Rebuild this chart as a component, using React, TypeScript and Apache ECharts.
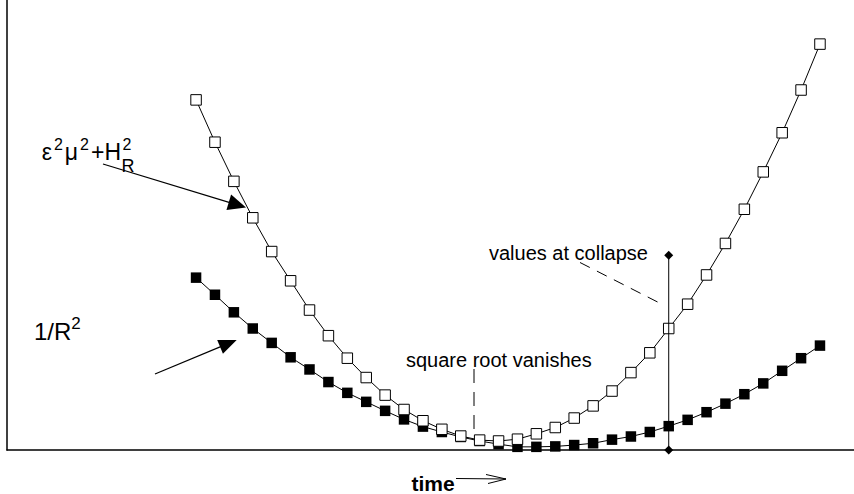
import React, { useEffect, useRef } from "react";
import * as echarts from "echarts";

// time steps (x)
const times = [10, 11, 12, 13, 14, 15, 16, 17, 18, 19, 20, 21, 22, 23, 24, 25, 26, 27, 28, 29, 30, 31, 32, 33, 34, 35, 36, 37, 38, 39, 40, 41, 42, 43];
// ε²μ² + H_R²  (open squares)
const sumSquares = [77.8, 68.4, 59.7, 51.6, 44.1, 37.6, 31.1, 25.4, 20.4, 16.1, 12.2, 9.0, 6.5, 4.6, 3.1, 2.2, 2.0, 2.4, 3.6, 5.0, 7.1, 9.8, 13.1, 17.2, 21.6, 27.0, 32.4, 38.9, 45.9, 53.5, 61.8, 70.5, 80.0, 90.2];
// 1/R²  (filled squares)
const invR2 = [38.3, 34.5, 30.6, 27.0, 23.8, 20.6, 17.9, 15.1, 12.7, 10.7, 8.7, 6.8, 5.2, 4.0, 2.9, 2.0, 1.3, 0.7, 0.7, 0.8, 1.1, 1.5, 2.3, 3.0, 4.0, 5.3, 6.7, 8.4, 10.3, 12.4, 14.8, 17.6, 20.4, 23.2];
// collapse marker
const collapseTime = [35, 35];
const collapseValue = [0, 43.3];

const FONT = '"Liberation Sans", Arial, Helvetica, sans-serif';

function arrowHead(sx: number, sy: number, tx: number, ty: number, len: number, half: number) {
  const dx = tx - sx, dy = ty - sy;
  const L = Math.hypot(dx, dy);
  const ux = dx / L, uy = dy / L;
  const bx = tx - ux * len, by = ty - uy * len;
  return {
    points: [[tx, ty], [bx - uy * half, by + ux * half], [bx + uy * half, by - ux * half]],
    base: [bx + ux * 2, by + uy * 2],
  };
}

export default function App() {
  const ref = useRef<HTMLDivElement>(null);
  useEffect(() => {
    if (!ref.current) return;
    const chart = echarts.init(ref.current, null, { renderer: "svg" });
    const a1 = arrowHead(103, 164, 246, 207.5, 18, 8);
    const a2 = arrowHead(155, 374, 236.7, 340, 18, 7.5);
    const supStyle = { fontSize: 16, lineHeight: 13, verticalAlign: "top", fontFamily: FONT, fill: "#000", padding: [0, 1, 0, 1] };
    const mainStyle = { fontSize: 23, lineHeight: 27, verticalAlign: "bottom", fontFamily: FONT, fill: "#000", padding: [0, 1, 0, 1] };
    const supStyle2 = { fontSize: 17, lineHeight: 13, verticalAlign: "top", fontFamily: FONT, fill: "#000", padding: [0, 0, 0, 0] };
    const mainStyle2 = { fontSize: 24, lineHeight: 28, verticalAlign: "bottom", fontFamily: FONT, fill: "#000", padding: [0, 0, 0, 1] };
    chart.setOption({
      animation: false,
      backgroundColor: "#fff",
      grid: { left: 7, right: 0, top: 0, bottom: 44 },
      xAxis: {
        type: "value", min: 0, max: 44.8,
        axisLine: { show: true, lineStyle: { color: "#000", width: 1.5 } },
        axisTick: { show: false }, axisLabel: { show: false }, splitLine: { show: false },
      },
      yAxis: {
        type: "value", min: 0, max: 100,
        axisLine: { show: true, lineStyle: { color: "#000", width: 1.5 } },
        axisTick: { show: false }, axisLabel: { show: false }, splitLine: { show: false },
      },
      series: [
        {
          type: "line",
          data: times.map((t, i) => [t, invR2[i]]),
          symbol: "rect", symbolSize: 10.5,
          lineStyle: { color: "#000", width: 1 },
          itemStyle: { color: "#000", borderColor: "#000", borderWidth: 0 },
          z: 2,
        },
        {
          type: "line",
          data: times.map((t, i) => [t, sumSquares[i]]),
          symbol: "rect", symbolSize: 10.5,
          lineStyle: { color: "#000", width: 1 },
          itemStyle: { color: "#fff", borderColor: "#000", borderWidth: 1 },
          z: 3,
        },
        {
          type: "line",
          data: collapseTime.map((t, i) => [t, collapseValue[i]]),
          symbol: "diamond", symbolSize: 9,
          lineStyle: { color: "#000", width: 1 },
          itemStyle: { color: "#000" },
          z: 4,
        },
      ],
      graphic: [
        // label ε²μ²+H²_R
        {
          type: "text",
          style: {
            text: "{a|ε}{s|2}{a|μ}{s|2}{a|+H}",
            x: 122, y: 163.5, align: "right", verticalAlign: "bottom",
            rich: { a: mainStyle, s: supStyle },
          },
        },
        { type: "text", style: { text: "2", x: 122.5, y: 144, verticalAlign: "middle", fontSize: 16, fontFamily: FONT, fill: "#000" } },
        { type: "text", style: { text: "R", x: 121.5, y: 165.5, verticalAlign: "middle", fontSize: 18, fontFamily: FONT, fill: "#000" } },
        { type: "line", shape: { x1: 103, y1: 164, x2: a1.base[0], y2: a1.base[1] }, style: { stroke: "#000", lineWidth: 1.2 } },
        { type: "polygon", shape: { points: a1.points }, style: { fill: "#000" } },
        // label 1/R²
        {
          type: "text",
          style: {
            text: "{a|1/R}{s|2}",
            x: 33, y: 343, align: "left", verticalAlign: "bottom",
            rich: { a: mainStyle2, s: supStyle2 },
          },
        },
        { type: "line", shape: { x1: 155, y1: 374, x2: a2.base[0], y2: a2.base[1] }, style: { stroke: "#000", lineWidth: 1.2 } },
        { type: "polygon", shape: { points: a2.points }, style: { fill: "#000" } },
        // square root vanishes
        { type: "text", style: { text: "square root vanishes", x: 406, y: 360, verticalAlign: "middle", fontSize: 20, fontFamily: FONT, fill: "#000" } },
        { type: "line", shape: { x1: 474, y1: 369, x2: 474, y2: 436 }, style: { stroke: "#000", lineWidth: 1, lineDash: [14, 9] } },
        // values at collapse
        { type: "text", style: { text: "values at collapse", x: 489, y: 253, verticalAlign: "middle", fontSize: 20, fontFamily: FONT, fill: "#000" } },
        { type: "line", shape: { x1: 580, y1: 262.5, x2: 660.5, y2: 303.5 }, style: { stroke: "#000", lineWidth: 1, lineDash: [11, 8] } },
        // time axis label
        { type: "text", style: { text: "time", x: 411.5, y: 483, verticalAlign: "middle", fontSize: 21, fontWeight: "bold", fontFamily: FONT, fill: "#000" } },
        { type: "line", shape: { x1: 456, y1: 478.5, x2: 506, y2: 479 }, style: { stroke: "#000", lineWidth: 1 } },
        { type: "polyline", shape: { points: [[486, 474.5], [506, 479], [488, 483.5]] }, style: { stroke: "#000", lineWidth: 1, fill: null } },
      ],
    });
    return () => chart.dispose();
  }, []);
  return (
    <div
      ref={ref}
      style={{ position: "fixed", left: 0, top: 0, width: 854, height: 494, background: "#fff" }}
    />
  );
}
